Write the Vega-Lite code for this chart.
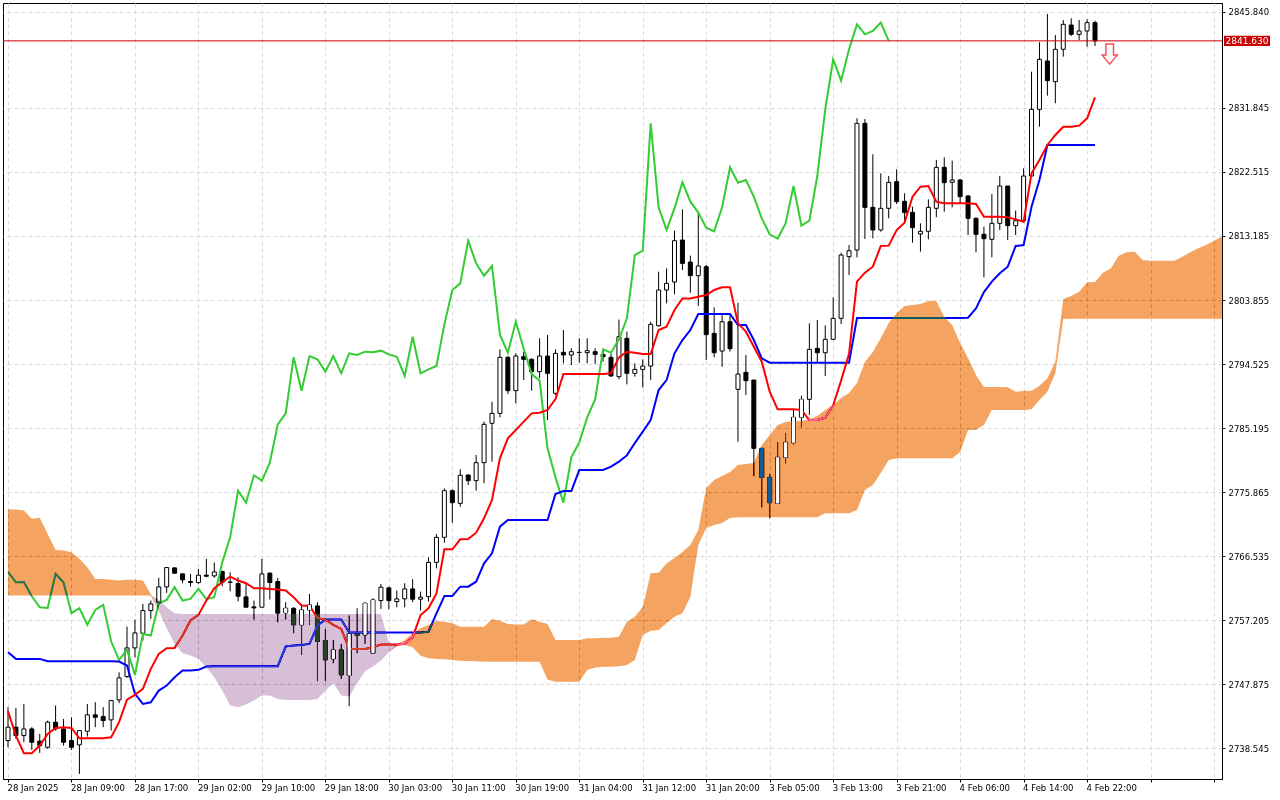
{
  "$schema": "https://vega.github.io/schema/vega-lite/v6.json",
  "width": 1219,
  "height": 776,
  "autosize": {"type": "none"},
  "padding": {"left": 3, "top": 3, "right": 58, "bottom": 21},
  "background": "white",
  "config": {
    "view": {"stroke": "black", "strokeWidth": 1, "fill": "white"},
    "axis": {
      "labelFont": "DejaVu Sans",
      "labelFontSize": 8.5,
      "labelColor": "black",
      "tickColor": "black",
      "tickSize": 3,
      "domainColor": "black",
      "grid": true,
      "gridColor": "#dadada",
      "gridDash": [4, 3],
      "labelOverlap": false,
      "labelBound": false,
      "labelFlush": false
    }
  },
  "data": {
    "values": [
      {"i":0,"o":2739.63,"h":2744.49,"l":2738.66,"c":2741.58,"t":2743.91,"k":2752.51,"ch":2764.22,"a":2773.31,"b":2760.77,"lo":2760.77},
      {"i":1,"o":2741.58,"h":2744.40,"l":2739.88,"c":2740.36,"t":2740.36,"k":2751.54,"ch":2762.71,"a":2773.31,"b":2760.77,"lo":2760.77},
      {"i":2,"o":2740.36,"h":2744.98,"l":2739.39,"c":2741.33,"t":2737.79,"k":2751.54,"ch":2762.74,"a":2773.16,"b":2760.77,"lo":2760.77},
      {"i":3,"o":2741.33,"h":2741.58,"l":2738.27,"c":2739.39,"t":2737.79,"k":2751.54,"ch":2760.67,"a":2771.95,"b":2760.77,"lo":2760.77},
      {"i":4,"o":2739.54,"h":2740.60,"l":2737.83,"c":2738.91,"t":2738.91,"k":2751.54,"ch":2759.07,"a":2772.10,"b":2760.77,"lo":2760.77},
      {"i":5,"o":2738.66,"h":2742.55,"l":2738.42,"c":2742.31,"t":2740.60,"k":2751.20,"ch":2758.97,"a":2769.76,"b":2760.77,"lo":2760.77},
      {"i":6,"o":2742.31,"h":2744.74,"l":2741.09,"c":2741.33,"t":2741.48,"k":2751.20,"ch":2763.93,"a":2767.43,"b":2760.77,"lo":2760.77},
      {"i":7,"o":2741.33,"h":2742.79,"l":2738.91,"c":2739.39,"t":2741.58,"k":2751.20,"ch":2762.67,"a":2767.33,"b":2760.77,"lo":2760.77},
      {"i":8,"o":2739.63,"h":2743.03,"l":2738.27,"c":2738.66,"t":2741.48,"k":2751.20,"ch":2758.20,"a":2767.09,"b":2760.77,"lo":2760.77},
      {"i":9,"o":2739.00,"h":2741.09,"l":2734.77,"c":2741.09,"t":2739.97,"k":2751.20,"ch":2758.92,"a":2766.12,"b":2760.77,"lo":2760.77},
      {"i":10,"o":2740.99,"h":2744.98,"l":2740.22,"c":2743.38,"t":2739.97,"k":2751.20,"ch":2756.50,"a":2764.90,"b":2760.77,"lo":2760.77},
      {"i":11,"o":2743.38,"h":2745.22,"l":2741.58,"c":2743.03,"t":2739.97,"k":2751.20,"ch":2758.68,"a":2763.20,"b":2760.77,"lo":2760.77},
      {"i":12,"o":2743.13,"h":2744.49,"l":2741.58,"c":2742.55,"t":2739.97,"k":2751.20,"ch":2759.41,"a":2763.20,"b":2760.77,"lo":2760.77},
      {"i":13,"o":2742.65,"h":2745.56,"l":2741.09,"c":2745.46,"t":2740.12,"k":2751.20,"ch":2754.07,"a":2763.06,"b":2760.77,"lo":2760.77},
      {"i":14,"o":2745.56,"h":2749.59,"l":2745.08,"c":2748.77,"t":2742.31,"k":2751.15,"ch":2751.39,"a":2762.96,"b":2760.77,"lo":2760.77},
      {"i":15,"o":2748.96,"h":2756.26,"l":2748.77,"c":2753.14,"t":2745.61,"k":2750.57,"ch":2752.85,"a":2763.06,"b":2760.77,"lo":2760.77},
      {"i":16,"o":2753.14,"h":2757.27,"l":2751.78,"c":2755.33,"t":2746.29,"k":2746.44,"ch":2749.21,"a":2763.06,"b":2760.77,"lo":2760.77},
      {"i":17,"o":2755.28,"h":2759.56,"l":2754.21,"c":2758.58,"t":2747.17,"k":2744.98,"ch":2755.18,"a":2762.96,"b":2760.77,"lo":2760.77},
      {"i":18,"o":2758.58,"h":2760.04,"l":2757.37,"c":2759.56,"t":2750.08,"k":2745.22,"ch":2754.94,"a":2761.01,"b":2760.77,"lo":2760.77},
      {"i":19,"o":2759.80,"h":2763.35,"l":2759.56,"c":2762.03,"t":2752.27,"k":2746.92,"ch":2759.65,"a":2758.58,"b":2760.19,"lo":2758.58},
      {"i":20,"o":2762.03,"h":2764.90,"l":2761.16,"c":2764.85,"t":2753.09,"k":2747.65,"ch":2760.14,"a":2756.01,"b":2759.07,"lo":2756.01},
      {"i":21,"o":2764.80,"h":2764.90,"l":2763.93,"c":2764.03,"t":2753.14,"k":2748.87,"ch":2761.99,"a":2753.72,"b":2758.20,"lo":2753.72},
      {"i":22,"o":2763.93,"h":2764.03,"l":2762.57,"c":2763.06,"t":2754.94,"k":2749.84,"ch":2760.04,"a":2752.36,"b":2758.10,"lo":2752.36},
      {"i":23,"o":2762.81,"h":2763.93,"l":2762.08,"c":2762.67,"t":2757.13,"k":2749.84,"ch":2760.29,"a":2752.02,"b":2758.10,"lo":2752.02},
      {"i":24,"o":2762.67,"h":2764.66,"l":2762.47,"c":2763.74,"t":2757.95,"k":2749.94,"ch":2761.74,"a":2751.54,"b":2758.10,"lo":2751.54},
      {"i":25,"o":2763.74,"h":2766.12,"l":2763.44,"c":2763.59,"t":2760.04,"k":2750.42,"ch":2760.24,"a":2750.32,"b":2758.10,"lo":2750.32},
      {"i":26,"o":2763.64,"h":2765.58,"l":2763.35,"c":2764.22,"t":2761.84,"k":2750.47,"ch":2760.53,"a":2748.87,"b":2758.10,"lo":2748.87},
      {"i":27,"o":2764.27,"h":2764.42,"l":2762.13,"c":2762.71,"t":2762.71,"k":2750.47,"ch":2765.61,"a":2746.92,"b":2758.10,"lo":2746.92},
      {"i":28,"o":2762.71,"h":2764.17,"l":2761.40,"c":2762.74,"t":2763.54,"k":2750.47,"ch":2769.26,"a":2744.74,"b":2758.10,"lo":2744.74},
      {"i":29,"o":2762.52,"h":2763.44,"l":2759.94,"c":2760.67,"t":2762.96,"k":2750.47,"ch":2776.06,"a":2744.49,"b":2758.10,"lo":2744.49},
      {"i":30,"o":2760.58,"h":2762.71,"l":2759.07,"c":2759.07,"t":2762.57,"k":2750.47,"ch":2774.31,"a":2744.88,"b":2758.10,"lo":2744.88},
      {"i":31,"o":2759.12,"h":2760.04,"l":2757.27,"c":2758.97,"t":2761.84,"k":2750.47,"ch":2778.30,"a":2745.46,"b":2758.10,"lo":2745.46},
      {"i":32,"o":2759.07,"h":2766.12,"l":2759.07,"c":2763.93,"t":2761.84,"k":2750.47,"ch":2777.52,"a":2746.19,"b":2758.10,"lo":2746.19},
      {"i":33,"o":2764.03,"h":2764.17,"l":2760.19,"c":2762.67,"t":2761.74,"k":2750.47,"ch":2780.14,"a":2746.19,"b":2758.10,"lo":2746.19},
      {"i":34,"o":2762.81,"h":2763.35,"l":2756.88,"c":2758.20,"t":2761.65,"k":2750.47,"ch":2785.73,"a":2745.71,"b":2758.10,"lo":2745.71},
      {"i":35,"o":2758.24,"h":2759.80,"l":2757.27,"c":2758.92,"t":2761.50,"k":2753.34,"ch":2787.33,"a":2745.56,"b":2758.10,"lo":2745.56},
      {"i":36,"o":2758.92,"h":2759.07,"l":2755.28,"c":2756.50,"t":2760.53,"k":2753.49,"ch":2795.50,"a":2745.56,"b":2758.10,"lo":2745.56},
      {"i":37,"o":2756.50,"h":2759.56,"l":2752.12,"c":2758.68,"t":2759.31,"k":2753.58,"ch":2790.64,"a":2745.56,"b":2758.10,"lo":2745.56},
      {"i":38,"o":2758.68,"h":2761.01,"l":2756.50,"c":2759.41,"t":2759.26,"k":2753.72,"ch":2795.69,"a":2745.56,"b":2758.10,"lo":2745.56},
      {"i":39,"o":2759.26,"h":2759.80,"l":2748.28,"c":2754.07,"t":2757.52,"k":2756.40,"ch":2795.21,"a":2745.71,"b":2758.10,"lo":2745.71},
      {"i":40,"o":2754.21,"h":2755.86,"l":2748.28,"c":2751.39,"t":2757.27,"k":2757.27,"ch":2793.41,"a":2746.92,"b":2758.10,"lo":2746.92},
      {"i":41,"o":2751.54,"h":2754.31,"l":2750.91,"c":2752.85,"t":2756.50,"k":2757.27,"ch":2795.69,"a":2747.99,"b":2758.10,"lo":2747.99},
      {"i":42,"o":2752.85,"h":2753.72,"l":2748.62,"c":2749.21,"t":2755.91,"k":2757.27,"ch":2793.17,"a":2746.19,"b":2758.10,"lo":2746.19},
      {"i":43,"o":2749.11,"h":2757.86,"l":2744.64,"c":2755.18,"t":2752.99,"k":2755.38,"ch":2796.08,"a":2746.05,"b":2758.10,"lo":2746.05},
      {"i":44,"o":2755.18,"h":2758.92,"l":2752.36,"c":2754.94,"t":2752.99,"k":2755.38,"ch":2795.84,"a":2747.99,"b":2758.10,"lo":2747.99},
      {"i":45,"o":2755.04,"h":2759.80,"l":2753.72,"c":2759.65,"t":2752.99,"k":2755.38,"ch":2796.32,"a":2749.74,"b":2758.10,"lo":2749.74},
      {"i":46,"o":2752.36,"h":2760.38,"l":2752.27,"c":2760.14,"t":2753.24,"k":2755.38,"ch":2796.23,"a":2750.42,"b":2758.10,"lo":2750.42},
      {"i":47,"o":2760.04,"h":2762.47,"l":2758.83,"c":2761.99,"t":2753.63,"k":2755.38,"ch":2796.47,"a":2751.30,"b":2758.10,"lo":2751.30},
      {"i":48,"o":2761.89,"h":2762.08,"l":2758.78,"c":2760.04,"t":2753.63,"k":2755.38,"ch":2795.93,"a":2752.51,"b":2753.97,"lo":2752.51},
      {"i":49,"o":2759.90,"h":2761.50,"l":2759.07,"c":2760.29,"t":2753.63,"k":2755.38,"ch":2795.59,"a":2753.66,"b":2753.41,"lo":2753.41},
      {"i":50,"o":2760.29,"h":2762.57,"l":2759.07,"c":2761.74,"t":2753.73,"k":2755.38,"ch":2792.78,"a":2754.29,"b":2753.56,"lo":2753.56},
      {"i":51,"o":2761.74,"h":2763.16,"l":2759.80,"c":2760.24,"t":2754.70,"k":2755.38,"ch":2798.51,"a":2755.26,"b":2753.22,"lo":2753.22},
      {"i":52,"o":2760.24,"h":2761.36,"l":2758.58,"c":2760.53,"t":2757.93,"k":2755.38,"ch":2793.17,"a":2755.99,"b":2752.00,"lo":2752.00},
      {"i":53,"o":2760.61,"h":2766.34,"l":2759.88,"c":2765.61,"t":2758.91,"k":2755.50,"ch":2793.74,"a":2756.47,"b":2751.62,"lo":2751.62},
      {"i":54,"o":2765.61,"h":2769.74,"l":2764.74,"c":2769.26,"t":2761.09,"k":2758.18,"ch":2794.23,"a":2757.06,"b":2751.52,"lo":2751.52},
      {"i":55,"o":2769.26,"h":2776.40,"l":2768.48,"c":2776.06,"t":2767.51,"k":2760.70,"ch":2800.30,"a":2756.96,"b":2751.47,"lo":2751.47},
      {"i":56,"o":2776.06,"h":2776.25,"l":2771.39,"c":2774.31,"t":2767.51,"k":2760.70,"ch":2805.31,"a":2756.72,"b":2751.37,"lo":2751.37},
      {"i":57,"o":2774.21,"h":2779.17,"l":2773.73,"c":2778.30,"t":2768.97,"k":2762.07,"ch":2806.28,"a":2756.23,"b":2751.28,"lo":2751.28},
      {"i":58,"o":2778.34,"h":2778.44,"l":2776.89,"c":2777.52,"t":2769.02,"k":2762.07,"ch":2812.50,"a":2756.23,"b":2751.23,"lo":2751.23},
      {"i":59,"o":2777.52,"h":2781.26,"l":2776.06,"c":2780.14,"t":2769.94,"k":2762.79,"ch":2809.20,"a":2756.23,"b":2751.18,"lo":2751.18},
      {"i":60,"o":2780.14,"h":2786.12,"l":2777.13,"c":2785.73,"t":2772.03,"k":2765.47,"ch":2807.40,"a":2756.23,"b":2751.13,"lo":2751.13},
      {"i":61,"o":2785.88,"h":2789.03,"l":2780.29,"c":2787.33,"t":2774.70,"k":2766.92,"ch":2808.81,"a":2757.30,"b":2751.13,"lo":2751.13},
      {"i":62,"o":2787.33,"h":2796.66,"l":2786.75,"c":2795.50,"t":2780.77,"k":2770.81,"ch":2798.80,"a":2757.11,"b":2751.13,"lo":2751.13},
      {"i":63,"o":2795.50,"h":2795.69,"l":2790.15,"c":2790.64,"t":2783.69,"k":2771.78,"ch":2796.17,"a":2756.62,"b":2751.13,"lo":2751.13},
      {"i":64,"o":2790.64,"h":2796.08,"l":2788.79,"c":2795.69,"t":2784.90,"k":2771.78,"ch":2800.69,"a":2756.57,"b":2751.13,"lo":2751.13},
      {"i":65,"o":2795.59,"h":2796.32,"l":2792.19,"c":2795.21,"t":2786.12,"k":2771.78,"ch":2796.76,"a":2756.57,"b":2751.13,"lo":2751.13},
      {"i":66,"o":2795.21,"h":2795.35,"l":2790.64,"c":2793.41,"t":2787.33,"k":2771.78,"ch":2793.06,"a":2757.30,"b":2751.13,"lo":2751.13},
      {"i":67,"o":2793.41,"h":2798.27,"l":2792.44,"c":2795.69,"t":2787.43,"k":2771.78,"ch":2792.09,"a":2756.96,"b":2751.13,"lo":2751.13},
      {"i":68,"o":2795.69,"h":2798.75,"l":2786.36,"c":2793.17,"t":2787.82,"k":2771.78,"ch":2782.23,"a":2756.62,"b":2748.55,"lo":2748.55},
      {"i":69,"o":2790.25,"h":2796.66,"l":2790.01,"c":2796.08,"t":2789.42,"k":2775.58,"ch":2778.00,"a":2754.29,"b":2748.21,"lo":2748.21},
      {"i":70,"o":2796.23,"h":2799.48,"l":2794.62,"c":2795.84,"t":2793.07,"k":2776.01,"ch":2774.31,"a":2754.29,"b":2748.21,"lo":2748.21},
      {"i":71,"o":2795.84,"h":2796.81,"l":2794.38,"c":2796.32,"t":2793.07,"k":2776.01,"ch":2780.92,"a":2754.29,"b":2748.21,"lo":2748.21},
      {"i":72,"o":2796.20,"h":2798.27,"l":2794.72,"c":2796.23,"t":2793.07,"k":2779.07,"ch":2783.10,"a":2754.29,"b":2748.21,"lo":2748.21},
      {"i":73,"o":2796.18,"h":2798.27,"l":2794.62,"c":2796.47,"t":2793.07,"k":2779.07,"ch":2786.75,"a":2754.53,"b":2749.92,"lo":2749.92},
      {"i":74,"o":2796.32,"h":2796.81,"l":2794.53,"c":2795.93,"t":2793.07,"k":2779.07,"ch":2789.37,"a":2754.53,"b":2750.30,"lo":2750.30},
      {"i":75,"o":2795.93,"h":2796.66,"l":2794.87,"c":2795.59,"t":2793.07,"k":2779.07,"ch":2796.66,"a":2754.63,"b":2750.40,"lo":2750.40},
      {"i":76,"o":2795.50,"h":2795.98,"l":2792.68,"c":2792.78,"t":2793.17,"k":2779.56,"ch":2796.17,"a":2754.63,"b":2750.40,"lo":2750.40},
      {"i":77,"o":2792.68,"h":2801.00,"l":2792.29,"c":2798.51,"t":2795.50,"k":2780.29,"ch":2798.12,"a":2754.77,"b":2750.45,"lo":2750.45},
      {"i":78,"o":2798.27,"h":2799.24,"l":2791.56,"c":2793.17,"t":2796.32,"k":2781.20,"ch":2801.18,"a":2756.96,"b":2750.64,"lo":2750.64},
      {"i":79,"o":2793.16,"h":2794.62,"l":2792.68,"c":2793.74,"t":2796.17,"k":2783.00,"ch":2810.41,"a":2757.69,"b":2751.37,"lo":2751.37},
      {"i":80,"o":2793.74,"h":2795.20,"l":2791.12,"c":2794.23,"t":2795.98,"k":2784.66,"ch":2811.04,"a":2759.15,"b":2755.02,"lo":2755.02},
      {"i":81,"o":2794.23,"h":2800.69,"l":2792.19,"c":2800.30,"t":2795.98,"k":2786.36,"ch":2829.61,"a":2764.01,"b":2755.65,"lo":2755.65},
      {"i":82,"o":2800.11,"h":2807.98,"l":2799.96,"c":2805.31,"t":2799.48,"k":2790.73,"ch":2817.36,"a":2764.10,"b":2755.75,"lo":2755.75},
      {"i":83,"o":2805.31,"h":2808.47,"l":2803.37,"c":2806.28,"t":2799.96,"k":2792.19,"ch":2814.06,"a":2765.46,"b":2756.72,"lo":2756.72},
      {"i":84,"o":2806.48,"h":2813.96,"l":2804.68,"c":2812.50,"t":2802.39,"k":2796.08,"ch":2817.22,"a":2766.24,"b":2757.69,"lo":2757.69},
      {"i":85,"o":2812.60,"h":2817.07,"l":2808.23,"c":2809.20,"t":2804.09,"k":2798.02,"ch":2821.01,"a":2767.12,"b":2758.18,"lo":2758.18},
      {"i":86,"o":2809.39,"h":2810.32,"l":2804.92,"c":2807.40,"t":2804.09,"k":2799.48,"ch":2818.19,"a":2768.14,"b":2760.56,"lo":2760.56},
      {"i":87,"o":2807.40,"h":2816.49,"l":2802.98,"c":2808.81,"t":2804.34,"k":2801.81,"ch":2816.59,"a":2770.33,"b":2768.14,"lo":2768.14},
      {"i":88,"o":2808.71,"h":2808.95,"l":2795.11,"c":2798.80,"t":2804.58,"k":2801.81,"ch":2814.40,"a":2776.45,"b":2770.62,"lo":2770.62},
      {"i":89,"o":2798.99,"h":2802.78,"l":2795.49,"c":2796.17,"t":2805.31,"k":2801.81,"ch":2813.87,"a":2777.62,"b":2771.06,"lo":2771.06},
      {"i":90,"o":2796.42,"h":2801.91,"l":2794.13,"c":2800.69,"t":2805.70,"k":2801.81,"ch":2817.36,"a":2778.20,"b":2771.35,"lo":2771.35},
      {"i":91,"o":2800.69,"h":2801.67,"l":2796.32,"c":2796.76,"t":2805.70,"k":2801.81,"ch":2823.19,"a":2778.78,"b":2772.08,"lo":2772.08},
      {"i":92,"o":2790.83,"h":2803.46,"l":2783.20,"c":2793.06,"t":2800.45,"k":2800.21,"ch":2820.96,"a":2779.80,"b":2772.18,"lo":2772.18},
      {"i":93,"o":2793.31,"h":2795.83,"l":2790.00,"c":2792.09,"t":2799.24,"k":2800.21,"ch":2821.35,"a":2779.95,"b":2772.18,"lo":2772.18},
      {"i":94,"o":2792.19,"h":2792.19,"l":2778.19,"c":2782.23,"t":2797.05,"k":2798.02,"ch":2818.92,"a":2780.10,"b":2772.18,"lo":2772.18},
      {"i":95,"o":2782.23,"h":2782.23,"l":2773.63,"c":2778.00,"t":2794.86,"k":2795.35,"ch":2815.76,"a":2782.72,"b":2772.18,"lo":2772.18},
      {"i":96,"o":2778.00,"h":2778.49,"l":2772.02,"c":2774.31,"t":2790.49,"k":2794.72,"ch":2813.43,"a":2784.18,"b":2772.18,"lo":2772.18},
      {"i":97,"o":2774.21,"h":2783.10,"l":2774.11,"c":2780.92,"t":2787.92,"k":2794.72,"ch":2812.80,"a":2785.63,"b":2772.18,"lo":2772.18},
      {"i":98,"o":2780.92,"h":2784.41,"l":2780.04,"c":2783.10,"t":2787.92,"k":2794.72,"ch":2815.03,"a":2786.07,"b":2772.18,"lo":2772.18},
      {"i":99,"o":2783.05,"h":2787.82,"l":2782.81,"c":2786.75,"t":2787.92,"k":2794.72,"ch":2820.47,"a":2786.22,"b":2772.18,"lo":2772.18},
      {"i":100,"o":2786.75,"h":2789.91,"l":2785.29,"c":2789.37,"t":2787.82,"k":2794.72,"ch":2814.69,"a":2786.22,"b":2772.18,"lo":2772.18},
      {"i":101,"o":2789.37,"h":2800.45,"l":2787.09,"c":2796.66,"t":2786.36,"k":2794.72,"ch":2815.42,"a":2786.51,"b":2772.18,"lo":2772.18},
      {"i":102,"o":2796.81,"h":2800.94,"l":2794.62,"c":2796.17,"t":2786.36,"k":2794.72,"ch":2821.93,"a":2786.95,"b":2772.18,"lo":2772.18},
      {"i":103,"o":2796.17,"h":2800.16,"l":2792.77,"c":2798.12,"t":2786.70,"k":2794.72,"ch":2831.65,"a":2787.82,"b":2772.76,"lo":2772.76},
      {"i":104,"o":2798.12,"h":2804.24,"l":2798.02,"c":2801.18,"t":2788.50,"k":2794.72,"ch":2838.94,"a":2788.55,"b":2772.76,"lo":2772.76},
      {"i":105,"o":2801.18,"h":2810.75,"l":2800.35,"c":2810.41,"t":2792.10,"k":2794.72,"ch":2835.83,"a":2789.57,"b":2772.76,"lo":2772.76},
      {"i":106,"o":2810.17,"h":2811.87,"l":2807.50,"c":2811.04,"t":2796.00,"k":2794.72,"ch":2840.40,"a":2790.30,"b":2772.76,"lo":2772.76},
      {"i":107,"o":2811.14,"h":2830.34,"l":2810.08,"c":2829.61,"t":2806.53,"k":2801.23,"ch":2844.04,"a":2791.76,"b":2773.24,"lo":2773.24},
      {"i":108,"o":2829.61,"h":2830.24,"l":2812.75,"c":2817.36,"t":2807.84,"k":2801.23,"ch":2842.58,"a":2794.82,"b":2776.16,"lo":2776.16},
      {"i":109,"o":2817.36,"h":2825.09,"l":2812.85,"c":2814.06,"t":2808.71,"k":2801.23,"ch":2843.07,"a":2796.28,"b":2776.89,"lo":2776.89},
      {"i":110,"o":2814.06,"h":2822.32,"l":2813.82,"c":2817.22,"t":2811.73,"k":2801.23,"ch":2844.29,"a":2798.32,"b":2778.64,"lo":2778.64},
      {"i":111,"o":2817.22,"h":2821.93,"l":2815.76,"c":2821.01,"t":2811.78,"k":2801.23,"ch":2841.63,"a":2800.50,"b":2780.53,"lo":2780.53},
      {"i":112,"o":2821.11,"h":2822.90,"l":2817.85,"c":2818.19,"t":2814.06,"k":2801.23,"a":2801.96,"b":2780.78,"lo":2780.78},
      {"i":113,"o":2818.24,"h":2819.41,"l":2815.27,"c":2816.59,"t":2815.13,"k":2801.23,"a":2802.98,"b":2780.78,"lo":2780.78},
      {"i":114,"o":2816.64,"h":2817.46,"l":2812.21,"c":2814.40,"t":2818.92,"k":2801.23,"a":2803.13,"b":2780.78,"lo":2780.78},
      {"i":115,"o":2813.48,"h":2815.03,"l":2810.90,"c":2813.87,"t":2820.38,"k":2801.23,"a":2803.27,"b":2780.78,"lo":2780.78},
      {"i":116,"o":2813.87,"h":2818.53,"l":2812.70,"c":2817.36,"t":2820.47,"k":2801.23,"a":2803.71,"b":2780.78,"lo":2780.78},
      {"i":117,"o":2817.22,"h":2824.26,"l":2815.91,"c":2823.19,"t":2818.19,"k":2801.23,"a":2803.71,"b":2780.78,"lo":2780.78},
      {"i":118,"o":2823.19,"h":2824.65,"l":2816.73,"c":2820.96,"t":2817.95,"k":2801.23,"a":2801.38,"b":2780.78,"lo":2780.78},
      {"i":119,"o":2821.01,"h":2824.17,"l":2817.36,"c":2821.35,"t":2817.95,"k":2801.23,"a":2800.21,"b":2780.78,"lo":2780.78},
      {"i":120,"o":2821.35,"h":2821.49,"l":2817.95,"c":2818.92,"t":2817.95,"k":2801.23,"a":2797.59,"b":2781.70,"lo":2781.70},
      {"i":121,"o":2819.02,"h":2819.16,"l":2813.33,"c":2815.76,"t":2817.95,"k":2801.28,"a":2795.40,"b":2784.90,"lo":2784.90},
      {"i":122,"o":2815.76,"h":2815.91,"l":2810.80,"c":2813.43,"t":2817.85,"k":2802.64,"a":2792.92,"b":2784.90,"lo":2784.90},
      {"i":123,"o":2813.43,"h":2814.55,"l":2807.16,"c":2812.80,"t":2816.00,"k":2805.00,"a":2791.17,"b":2785.63,"lo":2785.63},
      {"i":124,"o":2812.70,"h":2819.31,"l":2810.08,"c":2815.03,"t":2816.00,"k":2806.53,"a":2791.17,"b":2787.82,"lo":2787.82},
      {"i":125,"o":2815.03,"h":2821.93,"l":2814.06,"c":2820.47,"t":2816.00,"k":2807.74,"a":2791.17,"b":2787.82,"lo":2787.82},
      {"i":126,"o":2820.47,"h":2820.47,"l":2812.60,"c":2814.69,"t":2815.90,"k":2808.71,"a":2791.13,"b":2787.82,"lo":2787.82},
      {"i":127,"o":2814.69,"h":2816.88,"l":2813.33,"c":2815.42,"t":2815.61,"k":2811.73,"a":2790.49,"b":2787.82,"lo":2787.82},
      {"i":128,"o":2815.42,"h":2823.05,"l":2815.13,"c":2821.93,"t":2815.27,"k":2811.87,"a":2790.59,"b":2787.82,"lo":2787.82},
      {"i":129,"o":2821.93,"h":2837.14,"l":2821.83,"c":2831.65,"t":2822.32,"k":2817.46,"a":2790.63,"b":2787.92,"lo":2787.92},
      {"i":130,"o":2831.65,"h":2841.42,"l":2829.12,"c":2838.94,"t":2824.26,"k":2821.35,"a":2791.36,"b":2789.28,"lo":2789.28},
      {"i":131,"o":2838.70,"h":2845.55,"l":2833.64,"c":2835.83,"t":2826.45,"k":2826.45,"a":2792.44,"b":2790.49,"lo":2790.49},
      {"i":132,"o":2835.68,"h":2842.49,"l":2832.53,"c":2840.40,"t":2827.91,"k":2826.45,"a":2794.86,"b":2793.17,"lo":2793.17},
      {"i":133,"o":2840.40,"h":2844.67,"l":2839.33,"c":2844.04,"t":2829.12,"k":2826.45,"a":2804.00,"b":2801.09,"lo":2801.09},
      {"i":134,"o":2843.94,"h":2844.92,"l":2842.34,"c":2842.58,"t":2829.12,"k":2826.45,"a":2804.44,"b":2801.13,"lo":2801.13},
      {"i":135,"o":2842.58,"h":2844.67,"l":2841.76,"c":2843.07,"t":2829.27,"k":2826.45,"a":2805.07,"b":2801.13,"lo":2801.13},
      {"i":136,"o":2843.07,"h":2844.77,"l":2840.79,"c":2844.29,"t":2830.34,"k":2826.45,"a":2806.44,"b":2801.13,"lo":2801.13},
      {"i":137,"o":2844.29,"h":2844.58,"l":2840.88,"c":2841.63,"t":2833.40,"k":2826.45,"a":2806.48,"b":2801.13,"lo":2801.13},
      {"i":138,"a":2807.84,"b":2801.13,"lo":2801.13},
      {"i":139,"a":2808.48,"b":2801.13,"lo":2801.13},
      {"i":140,"a":2810.31,"b":2801.13,"lo":2801.13},
      {"i":141,"a":2810.81,"b":2801.13,"lo":2801.13},
      {"i":142,"a":2810.90,"b":2801.13,"lo":2801.13},
      {"i":143,"a":2809.69,"b":2801.13,"lo":2801.13},
      {"i":144,"a":2809.59,"b":2801.13,"lo":2801.13},
      {"i":145,"a":2809.59,"b":2801.13,"lo":2801.13},
      {"i":146,"a":2809.59,"b":2801.13,"lo":2801.13},
      {"i":147,"a":2809.59,"b":2801.13,"lo":2801.13},
      {"i":148,"a":2810.17,"b":2801.13,"lo":2801.13},
      {"i":149,"a":2810.81,"b":2801.13,"lo":2801.13},
      {"i":150,"a":2811.39,"b":2801.13,"lo":2801.13},
      {"i":151,"a":2811.87,"b":2801.13,"lo":2801.13},
      {"i":152,"a":2812.50,"b":2801.13,"lo":2801.13},
      {"i":153,"a":2813.10,"b":2801.13,"lo":2801.13}
    ]
  },
  "encoding": {
    "x": {
      "field": "i",
      "type": "quantitative",
      "scale": {"domain": [0, 152.375], "nice": false, "zero": false, "clamp": true},
      "axis": {
        "title": null,
        "values": [0, 8, 16, 24, 32, 40, 48, 56, 64, 72, 80, 88, 96, 104, 112, 120, 128, 136, 144, 152],
        "labelExpr": "['28 Jan 2025','28 Jan 09:00','28 Jan 17:00','29 Jan 02:00','29 Jan 10:00','29 Jan 18:00','30 Jan 03:00','30 Jan 11:00','30 Jan 19:00','31 Jan 04:00','31 Jan 12:00','31 Jan 20:00','3 Feb 05:00','3 Feb 13:00','3 Feb 21:00','4 Feb 06:00','4 Feb 14:00','4 Feb 22:00'][datum.value / 8] || ''",
        "labelAlign": "left",
        "labelBaseline": "top",
        "labelPadding": 1,
        "labelOffset": -1
      }
    }
  },
  "layer": [
    {
      "mark": {"type": "rule", "color": "black", "strokeWidth": 1},
      "encoding": {
        "y": {
          "field": "l",
          "type": "quantitative",
          "title": null,
          "scale": {"domain": [2734.03, 2847.15], "nice": false, "zero": false},
          "axis": {
            "orient": "right",
            "title": null,
            "format": ".3f",
            "values": [2738.545, 2743.21, 2747.875, 2752.54, 2757.205, 2761.87, 2766.535, 2771.2, 2775.865, 2780.53, 2785.195, 2789.86, 2794.525, 2799.19, 2803.855, 2808.52, 2813.185, 2817.85, 2822.515, 2827.18, 2831.845, 2836.51, 2845.84],
            "labelAlign": "left",
            "labelPadding": 3
          }
        },
        "y2": {"field": "h"}
      }
    },
    {
      "mark": {"type": "bar", "width": 4, "stroke": "black", "strokeWidth": 1},
      "encoding": {
        "y": {"field": "o", "type": "quantitative", "title": null},
        "y2": {"field": "c"},
        "fill": {"condition": {"test": "datum.c < datum.o", "value": "black"}, "value": "white"}
      }
    },
    {
      "mark": {"type": "line", "color": "#32cd32", "strokeWidth": 2},
      "encoding": {"y": {"field": "ch", "type": "quantitative", "title": null}}
    },
    {
      "mark": {"type": "line", "color": "#0000ff", "strokeWidth": 2},
      "encoding": {"y": {"field": "k", "type": "quantitative", "title": null}}
    },
    {
      "mark": {"type": "line", "color": "#ff0000", "strokeWidth": 2},
      "encoding": {"y": {"field": "t", "type": "quantitative", "title": null}}
    },
    {
      "mark": {"type": "area", "color": "#0b5b9f", "blend": "difference"},
      "encoding": {
        "y": {"field": "a", "type": "quantitative", "title": null},
        "y2": {"field": "lo"}
      }
    },
    {
      "mark": {"type": "area", "color": "#274027", "blend": "difference"},
      "encoding": {
        "y": {"field": "b", "type": "quantitative", "title": null},
        "y2": {"field": "lo"}
      }
    },
    {
      "transform": [{"filter": "datum.c > datum.o && ((datum.i >= 35 && datum.i <= 46) || (datum.i >= 97 && datum.i <= 100))"}],
      "mark": {"type": "bar", "width": 3, "color": "white"},
      "encoding": {
        "y": {"field": "o", "type": "quantitative", "title": null},
        "y2": {"field": "c"}
      }
    },
    {
      "data": {"values": [{"p": 2841.63}]},
      "mark": {"type": "rule", "color": "#cc0000", "strokeWidth": 1},
      "encoding": {"x": null, "y": {"field": "p", "type": "quantitative", "title": null}}
    },
    {
      "data": {"values": [{"i": 138.85, "p": 2839.7}]},
      "mark": {
        "type": "point",
        "shape": "M-0.38,-1L0.38,-1L0.38,0.1L0.75,0.1L0,1L-0.75,0.1L-0.38,0.1Z",
        "size": 400,
        "filled": false,
        "fill": "white",
        "stroke": "#ff4d4d",
        "strokeWidth": 1.5,
        "opacity": 1
      },
      "encoding": {"y": {"field": "p", "type": "quantitative", "title": null}}
    },
    {
      "data": {"values": [{"p": 2841.63, "txt": "2841.630"}]},
      "layer": [
        {
          "mark": {
            "type": "point",
            "shape": "M-1,-0.22L1,-0.22L1,0.22L-1,0.22Z",
            "size": 2116,
            "filled": true,
            "color": "#cc0000",
            "opacity": 1,
            "strokeWidth": 0,
            "xOffset": 25
          },
          "encoding": {"x": {"value": "width"}, "y": {"field": "p", "type": "quantitative", "title": null}}
        },
        {
          "mark": {"type": "text", "color": "white", "font": "DejaVu Sans", "fontSize": 9, "align": "center", "baseline": "middle", "xOffset": 25},
          "encoding": {
            "x": {"value": "width"},
            "y": {"field": "p", "type": "quantitative", "title": null},
            "text": {"field": "txt"}
          }
        }
      ]
    }
  ]
}
